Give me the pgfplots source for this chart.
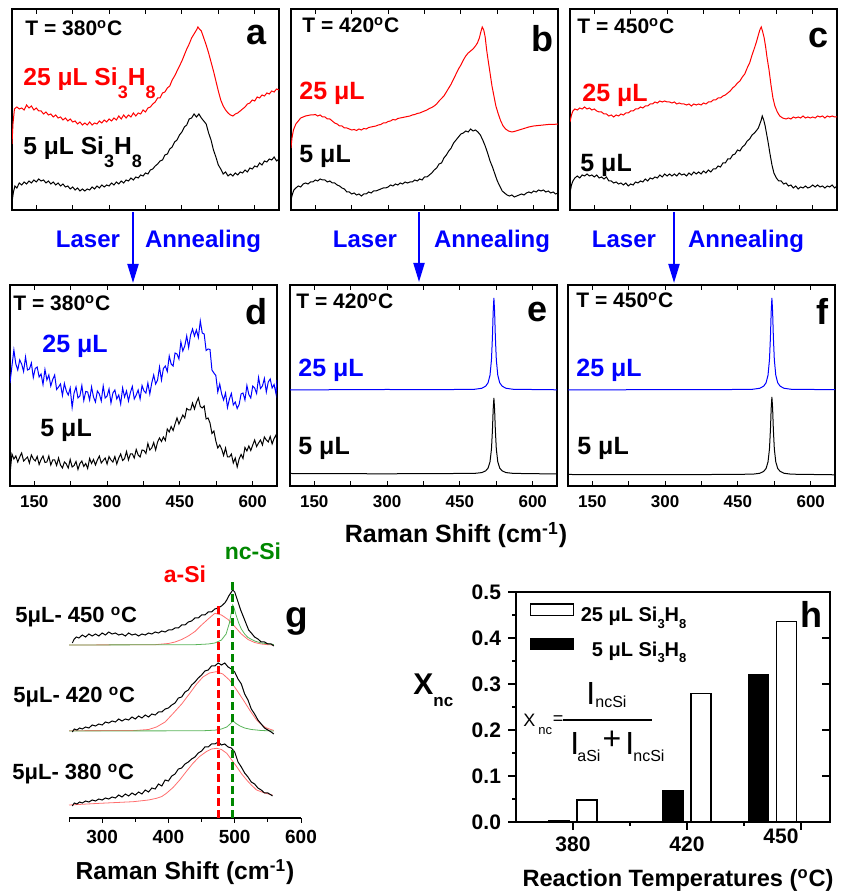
\documentclass[border=0pt]{standalone}
\usepackage{fontspec}
\setmainfont{Liberation Sans}
\usepackage{pgfplots}
\pgfplotsset{compat=1.18}
\usetikzlibrary{arrows.meta}
\definecolor{fitred}{RGB}{255,110,110}
\definecolor{fitgreen}{RGB}{90,180,90}
\definecolor{ncgreen}{RGB}{0,135,0}
\newcommand\fs[1]{\fontsize{#1}{#1}\selectfont\bfseries}
\newcommand\fr[1]{\fontsize{#1}{#1}\selectfont}
\newcommand\sub[1]{\raisebox{-6.5pt}{\fontsize{9}{9}\selectfont #1}}
\newcommand\lsub[1]{\raisebox{-3.3pt}{\fontsize{6.5}{6.5}\selectfont #1}}
\pgfplotsset{
  spec/.style={scale only axis, width=133.5pt, height=100.5pt, anchor=south west,
    xmin=100, xmax=650, ymin=0, ymax=201,
    xtick={150,300,450,600}, minor xtick={225,375,525}, ytick=\empty,
    tick align=inside, major tick length=2.5pt, minor tick length=2.5pt,
    axis line style={line width=0.6pt}, every tick/.style={black, line width=0.5pt},
    xticklabels={150,300,450,600},
    xticklabel style={font=\fs{8.5}, yshift=-1.5pt}},
  top/.style={spec, xticklabels={}},
  sp/.style={line width=0.5pt},
}
\begin{document}
\begin{tikzpicture}
\begin{scope}[yshift=446pt]
\begin{scope}[x=0.5pt,y=-0.5pt, every node/.style={inner sep=0pt}]
\useasboundingbox (0,0) rectangle (840,892);
% temperature labels
\node[anchor=base west, font=\fs{10.5}] at (25,36) {T = 380\textsuperscript{o}C};
\node[anchor=base west, font=\fs{10.5}] at (302,33) {T = 420\textsuperscript{o}C};
\node[anchor=base west, font=\fs{10.5}] at (577,34) {T = 450\textsuperscript{o}C};
\node[anchor=base west, font=\fs{10.5}] at (13,311) {T = 380\textsuperscript{o}C};
\node[anchor=base west, font=\fs{10.5}] at (296,309) {T = 420\textsuperscript{o}C};
\node[anchor=base west, font=\fs{10.5}] at (576,308) {T = 450\textsuperscript{o}C};
% panel letters
\node[anchor=base, font=\fs{18}] at (257,45) {a};
\node[anchor=base, font=\fs{18}] at (542,52) {b};
\node[anchor=base, font=\fs{18}] at (818,48) {c};
\node[anchor=base, font=\fs{18}] at (256,325) {d};
\node[anchor=base, font=\fs{18}] at (537,322) {e};
\node[anchor=base, font=\fs{18}] at (822,325) {f};
\node[anchor=base, font=\fs{18.5}] at (297,628) {g};
\node[anchor=base, font=\fs{18}] at (811,628) {h};
% series labels
\node[anchor=base west, font=\fs{12.3}, red] at (23,86) {25 μL Si\sub{3}H\sub{8}};
\node[anchor=base west, font=\fs{12.3}] at (23,155) {5 μL Si\sub{3}H\sub{8}};
\node[anchor=base west, font=\fs{12.5}, red] at (299,100) {25 μL};
\node[anchor=base west, font=\fs{12.5}] at (299,163) {5 μL};
\node[anchor=base west, font=\fs{12.5}, red] at (582,102) {25 μL};
\node[anchor=base west, font=\fs{12.5}] at (580,172) {5 μL};
\node[anchor=base west, font=\fs{12.5}, blue] at (42,353) {25 μL};
\node[anchor=base west, font=\fs{12.5}] at (40,437) {5 μL};
\node[anchor=base west, font=\fs{12.5}, blue] at (298,377) {25 μL};
\node[anchor=base west, font=\fs{12.5}] at (298,455) {5 μL};
\node[anchor=base west, font=\fs{12.5}, blue] at (576,377) {25 μL};
\node[anchor=base west, font=\fs{12.5}] at (577,455) {5 μL};
% laser annealing arrows
\draw[blue, line width=1pt, -{Triangle[length=9.5pt, width=5.5pt]}] (133,212) -- (133,283);
\draw[blue, line width=1pt, -{Triangle[length=9.5pt, width=5.5pt]}] (419,212) -- (419,282);
\draw[blue, line width=1pt, -{Triangle[length=9.5pt, width=5.5pt]}] (674,212) -- (674,283);
\node[anchor=base, font=\fs{12}, blue] at (88,248) {Laser};
\node[anchor=base, font=\fs{12}, blue] at (203,248) {Annealing};
\node[anchor=base, font=\fs{12}, blue] at (365,248) {Laser};
\node[anchor=base, font=\fs{12}, blue] at (492,248) {Annealing};
\node[anchor=base, font=\fs{12}, blue] at (624,248) {Laser};
\node[anchor=base, font=\fs{12}, blue] at (746,248) {Annealing};
\node[anchor=base, font=\fs{12.5}] at (456,543) {Raman Shift (cm\textsuperscript{-1})};
% panel g text
\node[anchor=base west, font=\fs{11}] at (15,623) {5μL- 450 \textsuperscript{o}C};
\node[anchor=base west, font=\fs{11}] at (13,703) {5μL- 420 \textsuperscript{o}C};
\node[anchor=base west, font=\fs{11}] at (12,780) {5μL- 380 \textsuperscript{o}C};
\node[anchor=base, font=\fs{11.5}, red] at (185,583) {a-Si};
\node[anchor=base, font=\fs{11.5}, ncgreen] at (253,560) {nc-Si};
\node[anchor=base, font=\fs{12.3}] at (185,880) {Raman Shift (cm\textsuperscript{-1})};
% panel h text
\node[anchor=base west, font=\fs{15}] at (413,695) {X};
\node[anchor=base west, font=\fs{8.5}] at (433,707) {nc};
\node[anchor=base, font=\fs{11.8}] at (678,887) {Reaction Temperatures (\textsuperscript{o}C)};
\node[anchor=base west, font=\fr{9}] at (523,727) {X};
\node[anchor=base west, font=\fr{6.5}] at (538,735) {nc};
\node[font=\fr{9}] at (558,720) {=};
\draw[line width=0.8pt] (563,720) -- (652,720);
\node[anchor=base west, font=\fr{16}] at (586,705) {I};
\node[anchor=base west, font=\fr{8}] at (595,708) {ncSi};
\node[anchor=base west, font=\fr{16}] at (570,755) {I};
\node[anchor=base west, font=\fr{8}] at (577,762) {aSi};
\node[font=\fr{16}] at (612,740) {+};
\node[anchor=base west, font=\fr{16}] at (625,755) {I};
\node[anchor=base west, font=\fr{8}] at (633,762) {ncSi};
\end{scope}
\end{scope}

% ---------- panel a ----------
\begin{axis}[top, at={(6pt,341pt)}]
\addplot[sp, red] coordinates {(100,66)(102,86)(105,101)(110,103)(115,101)(120,102)(125,100)(130,105)(135,102)(140,104)(145,100)(150,102)(155,99)(160,99)(165,96)(170,98)(175,95)(180,96)(185,93)(190,95)(195,92)(200,93)(205,90)(210,92)(215,89)(220,91)(225,88)(230,89)(235,86)(240,88)(245,85)(250,87)(255,85)(260,88)(265,85)(270,87)(275,86)(280,89)(285,87)(290,90)(295,88)(300,91)(305,89)(310,92)(315,90)(320,94)(325,91)(330,95)(335,92)(340,95)(345,93)(350,97)(355,94)(360,97)(365,96)(370,100)(375,98)(380,102)(385,103)(390,106)(395,108)(400,112)(405,112)(410,117)(415,118)(420,122)(425,124)(430,130)(435,134)(440,139)(445,144)(450,149)(455,155)(460,161)(465,166)(470,172)(475,176)(480,180)(483,183)(486,181)(490,179)(495,172)(500,165)(505,157)(510,148)(515,139)(520,129)(525,119)(530,110)(535,104)(540,100)(545,97)(550,95)(555,94)(560,96)(565,97)(570,99)(575,101)(580,103)(585,106)(590,107)(595,110)(600,109)(605,113)(610,112)(615,115)(620,114)(625,117)(630,116)(635,119)(640,118)(645,121)(650,120)};
\addplot[sp, black] coordinates {(100,8)(103,18)(106,24)(110,22)(115,27)(120,25)(125,28)(130,26)(135,29)(140,27)(145,30)(150,28)(155,31)(160,29)(165,30)(170,27)(175,29)(180,26)(185,28)(190,25)(195,27)(200,24)(205,26)(210,23)(215,24)(220,21)(225,23)(230,20)(235,22)(240,19)(245,21)(250,19)(255,21)(260,20)(265,23)(270,21)(275,24)(280,22)(285,25)(290,23)(295,25)(300,24)(305,27)(310,25)(315,28)(320,26)(325,29)(330,27)(335,30)(340,29)(345,32)(350,30)(355,33)(360,32)(365,35)(370,34)(375,37)(380,36)(385,40)(390,41)(395,44)(400,46)(405,49)(410,50)(415,55)(420,56)(425,61)(430,63)(435,68)(440,70)(445,75)(450,78)(455,83)(460,85)(465,91)(470,92)(475,96)(480,93)(485,96)(490,92)(495,89)(500,86)(505,77)(510,70)(515,60)(520,53)(525,45)(530,41)(535,36)(540,38)(545,34)(550,36)(555,34)(560,37)(565,35)(570,38)(575,37)(580,40)(585,38)(590,42)(595,41)(600,44)(605,43)(610,47)(615,45)(620,49)(625,48)(630,51)(635,50)(640,53)(645,49)(650,51)};
\end{axis}

% ---------- panel b ----------
\begin{axis}[top, at={(145.5pt,341pt)}]
\addplot[sp, red] coordinates {(100,62)(102,72)(105,80)(110,86)(115,89)(120,92)(125,93)(130,94)(135,94.5)(140,95)(145,95)(150,95.5)(155,94)(160,95)(165,93)(170,93)(175,91)(180,91)(185,89)(190,87)(195,86)(200,84)(205,84)(210,82)(215,82)(220,81)(225,80)(230,80.5)(235,79.5)(240,81)(245,80)(250,81.5)(255,81)(260,82.5)(265,83)(270,83.5)(275,84)(280,85)(285,85.5)(290,87)(295,87)(300,88.5)(305,89)(310,90.5)(315,90)(320,91.5)(325,92)(330,92.5)(335,93)(340,93.5)(345,94)(350,95)(355,95.5)(360,96.5)(365,97)(370,98)(375,99)(380,100)(385,101.5)(390,102.5)(395,104)(400,106)(405,109)(410,111.5)(415,114)(420,118)(425,122)(430,126)(435,131)(440,136)(445,141)(450,145)(455,150)(460,154)(465,157)(470,159)(475,161)(480,164)(484,167)(488,172)(491,178)(494,183)(497,180)(500,173)(503,160)(506,150)(510,137)(514,124)(518,114)(522,104)(527,96)(532,89)(537,84)(542,81)(548,79)(555,78)(560,78.5)(570,80)(580,81.5)(590,83)(600,84)(610,84.5)(620,85)(630,85.5)(640,85.5)(650,86)};
\addplot[sp, black] coordinates {(100,10)(103,16)(106,20)(110,22)(115,24)(120,23)(125,26)(130,27)(135,26)(140,28)(145,28)(150,30)(155,29)(160,31)(165,30)(170,30)(175,28)(180,29)(185,27)(190,27)(195,25)(200,24)(205,22)(210,21)(215,18)(220,18)(225,16)(230,17)(235,15)(240,16)(245,14)(250,16)(255,16)(260,18)(265,17)(270,19)(275,19)(280,20)(285,21)(290,22)(295,22)(300,23)(305,25)(310,24)(315,26)(320,25)(325,27)(330,26)(335,28)(340,27)(345,28)(350,28)(355,30)(360,29)(365,31)(370,30)(375,33)(380,33)(385,35)(390,37)(395,40)(400,42)(405,46)(410,47)(415,52)(420,55)(425,59)(430,62)(435,67)(440,70)(445,73)(450,76)(455,77)(460,79)(465,78)(470,81)(475,79)(480,80)(485,78)(490,75)(495,70)(500,64)(505,57)(510,49)(515,43)(520,36)(525,29)(530,24)(535,19)(540,17)(545,15)(550,14)(555,15)(560,13)(565,14)(570,15)(575,16)(580,15)(585,17)(590,18)(595,17)(600,19)(605,18)(610,20)(615,19)(620,20)(625,18)(630,19)(635,17)(640,18)(645,16)(650,17)};
\end{axis}

% ---------- panel c ----------
\begin{axis}[top, at={(285pt,341pt)}]
\addplot[sp, red] coordinates {(100,88)(103,95)(106,99)(110,101)(115,100)(120,102)(125,101)(130,103)(135,101)(140,102)(145,100)(150,101)(155,99)(160,98)(165,98)(170,96)(175,96)(180,94)(185,95)(190,93)(195,95)(200,94)(205,96)(210,95)(215,97)(220,97)(225,99)(230,99)(235,101)(240,101)(245,103)(250,102)(255,104)(260,104)(265,106)(270,106)(275,108)(280,107)(285,109)(290,108)(295,109)(300,108)(305,108)(310,107)(315,108)(320,106)(325,107)(330,106)(335,106)(340,105)(345,106)(350,104)(355,106)(360,105)(365,106)(370,105)(375,107)(380,106)(385,108)(390,108)(395,110)(400,110)(405,112)(410,112)(415,114)(420,115)(425,117)(430,119)(435,122)(440,124)(445,127)(450,129)(455,133)(460,136)(465,142)(470,147)(475,155)(480,162)(484,168)(488,175)(491,180)(494,183)(497,178)(500,172)(503,163)(506,152)(510,140)(514,125)(518,112)(522,104)(527,98)(532,94)(538,92)(545,91)(550,92)(555,91)(560,93)(565,92)(570,93)(575,92)(580,94)(585,92)(590,93)(595,92)(600,93)(605,92)(610,94)(615,93)(620,94)(625,92)(630,94)(635,93)(640,94)(645,93)(650,93)};
\addplot[sp, black] coordinates {(100,17)(103,25)(106,29)(110,32)(115,34)(120,32)(125,35)(130,34)(135,36)(140,34)(145,35)(150,33)(155,35)(160,32)(165,33)(170,31)(175,33)(180,29)(185,29)(190,27)(195,28)(200,26)(205,27)(210,25)(215,27)(220,24)(225,26)(230,25)(235,28)(240,27)(245,29)(250,28)(255,31)(260,29)(265,32)(270,31)(275,33)(280,32)(285,35)(290,33)(295,36)(300,34)(305,36)(310,34)(315,36)(320,34)(325,37)(330,35)(335,36)(340,34)(345,37)(350,35)(355,38)(360,36)(365,38)(370,36)(375,39)(380,37)(385,40)(390,38)(395,41)(400,41)(405,44)(410,43)(415,47)(420,47)(425,51)(430,51)(435,55)(440,56)(445,60)(450,59)(455,63)(460,65)(465,69)(470,71)(475,75)(480,77)(485,80)(488,82)(491,86)(494,90)(496,94)(499,90)(502,84)(505,76)(508,68)(512,56)(516,45)(520,37)(525,32)(530,29)(535,29)(540,26)(545,27)(550,24)(555,25)(560,22)(565,24)(570,21)(575,23)(580,22)(585,24)(590,22)(595,23)(600,25)(605,23)(610,25)(615,23)(620,24)(625,22)(630,24)(635,23)(640,25)(645,22)(650,24)};
\end{axis}

% ---------- panel d ----------
\begin{axis}[spec, at={(5pt,203pt)}]
\addplot[sp, blue] coordinates {(100,103)(104,120)(108,136)(112,122)(116,116)(120,126)(124,122)(128,114.5)(132,129)(136,116)(140,117)(144,123)(148,108.5)(152,117.5)(156,119)(160,109)(164,112)(168,101.5)(172,116.5)(176,106)(180,111)(184,100)(188,106.5)(192,111)(196,96.5)(200,99)(204,102)(208,90.5)(212,102.5)(216,95)(220,91)(224,98)(228,78.5)(232,93)(236,99)(240,88)(244,90)(248,100.5)(252,85.5)(256,94.5)(260,94)(264,86)(268,99)(272,89)(276,84)(280,95)(284,92)(288,85)(292,100)(296,88)(300,90)(304,97)(308,83)(312,93)(316,96)(320,87)(324,91)(328,82)(332,98)(336,89)(340,95)(344,85)(348,93.5)(352,99.5)(356,87)(360,91)(364,96)(368,87)(372,100.5)(376,95)(380,93)(384,103)(388,92)(392,103)(396,111)(400,102)(404,106)(408,119)(412,106)(416,117.5)(420,120)(424,114.5)(428,130)(432,122)(436,120)(440,133)(444,132)(448,127)(452,144)(456,135)(460,140)(464,150)(468,138.5)(472,151)(476,157)(480,150)(484,156)(488,148.5)(492,165)(496,153)(500,152)(504,135.5)(508,137)(512,136.5)(516,116)(520,113)(524,110.5)(528,94)(532,102)(536,92)(540,86)(544,93)(548,78.5)(552,87)(556,92.5)(560,81)(564,84)(568,77.5)(572,81.5)(576,92)(580,93)(584,86)(588,100.5)(592,91.5)(596,88)(600,100)(604,98)(608,92.5)(612,108.5)(616,97.5)(620,100)(624,107.5)(628,94)(632,104)(636,107)(640,98)(644,101.5)(648,92)(650,106)};
\addplot[sp, black] coordinates {(100,12)(104,32)(108,27)(112,30)(116,24)(120,29)(124,33)(128,25)(132,27)(136,29)(140,23)(144,31)(148,27)(152,25)(156,29.5)(160,21.5)(164,26.5)(168,30)(172,23.5)(176,24)(180,30)(184,21)(188,26)(192,26)(196,20.5)(200,28)(204,21)(208,18)(212,24)(216,22)(220,18)(224,26.5)(228,19)(232,20.5)(236,24.5)(240,16.5)(244,22.5)(248,25)(252,19.5)(256,22.5)(260,17.5)(264,27.5)(268,22.5)(272,26.5)(276,21)(280,26)(284,30)(288,23)(292,25.5)(296,28)(300,22)(304,29.5)(308,26)(312,24)(316,29.5)(320,22)(324,28)(328,32)(332,25.5)(336,27.5)(340,34.5)(344,26)(348,32)(352,32)(356,28)(360,36.5)(364,31)(368,29)(372,36)(376,35.5)(380,32.5)(384,42.5)(388,36)(392,38)(396,43.5)(400,36)(404,44)(408,48)(412,44.5)(416,49)(420,45.5)(424,57)(428,54)(432,59.5)(436,55.5)(440,62)(444,68)(448,62)(452,66.5)(456,71)(460,68)(464,77.5)(468,76)(472,76)(476,83)(480,77)(484,83.5)(488,88)(492,79.5)(496,78)(500,80)(504,67)(508,68)(512,63)(516,52.5)(520,55)(524,45)(528,38)(532,41)(536,37)(540,30.5)(544,38)(548,29)(552,29)(556,32)(560,23)(564,28)(568,19)(572,27)(576,31.5)(580,27.5)(584,38.5)(588,35)(592,40)(596,35.5)(600,41)(604,46)(608,39.5)(612,43)(616,46)(620,41)(624,49)(628,46)(632,44)(636,49.5)(640,42)(644,47.5)(648,51)(650,45)};
\end{axis}

% ---------- panel e ----------
\begin{axis}[spec, at={(145pt,203pt)}]
\addplot[sp, blue] coordinates {(100,96)(200,96.3)(300,96.5)(400,96.3)(480,96.7)(495,97.7)(503,99.8)(508,103.2)(512,110.8)(515,126.3)(517,149)(518.5,173.8)(520,188)(521.5,173.8)(523,149)(525,126.3)(528,110.8)(532,103.2)(537,99.8)(545,97.7)(560,96.7)(650,96.2)};
\addplot[sp, black] coordinates {(100,12.5)(200,12.3)(300,12.2)(400,12.4)(480,12.6)(495,13.4)(503,15.1)(508,17.9)(512,24.2)(515,37)(517,55.8)(518.5,76.2)(520,88)(521.5,76.2)(523,55.8)(525,37)(528,24.2)(532,17.9)(537,15.1)(545,13.4)(560,12.6)(650,12)};
\end{axis}

% ---------- panel f ----------
\begin{axis}[spec, at={(284pt,203pt)}]
\addplot[sp, blue] coordinates {(100,96)(200,96.2)(300,96.4)(400,96.3)(480,96.7)(495,97.7)(503,99.8)(508,103.2)(512,110.8)(515,126.3)(517,149)(518.5,173.8)(520,188)(521.5,173.8)(523,149)(525,126.3)(528,110.8)(532,103.2)(537,99.8)(545,97.7)(560,96.7)(650,96.3)};
\addplot[sp, black] coordinates {(100,11.5)(200,11.4)(300,11.3)(400,11.5)(480,11.8)(495,12.7)(503,14.6)(508,17.5)(512,24.1)(515,37.2)(517,56.4)(518.5,77.4)(520,89)(521.5,77.4)(523,56.4)(525,37.2)(528,24.1)(532,17.5)(537,14.6)(545,12.7)(560,11.8)(650,11.2)};
\end{axis}

% ---------- panel g ----------
\begin{axis}[scale only axis, at={(34.5pt,37pt)}, anchor=south west, width=116pt, height=159pt,
  xmin=250, xmax=600, ymin=0, ymax=318, clip=false,
  axis x line*=bottom, axis y line=none,
  xtick={300,400,500,600}, minor xtick={250,350,450,550}, tick align=outside,
  major tick length=2.5pt, minor tick length=1.8pt,
  axis line style={line width=0.6pt}, every tick/.style={black, line width=0.5pt},
  xticklabels={300,400,500,600}, xticklabel style={font=\fs{9.5}}]
\addplot[fitred, line width=0.4pt] coordinates {(250,173)(380,173.3)(400,174.5)(410,176)(420,178.5)(430,182)(440,186.5)(450,193)(460,199)(470,204.7)(480,203)(490,198.5)(500,191.5)(510,184)(520,178.5)(530,175.5)(540,174)(550,173.3)(559,173)};
\addplot[fitgreen, line width=0.4pt] coordinates {(250,173)(440,173.3)(460,174)(470,175)(480,178)(487,184)(492,195)(495,206)(497,213)(499,210)(502,203)(506,195)(510,189)(515,184)(520,180.5)(530,177)(540,175)(559,173.5)};
\addplot[sp, black] coordinates {(255,175)(258,179)(261,181)(265,180)(270,183)(275,181)(280,184)(285,182)(290,184)(295,182)(300,185)(305,183)(310,186)(315,184)(320,185)(325,183)(330,184)(335,182)(340,185)(345,183)(350,184)(355,182)(360,184)(365,183)(370,185)(375,184)(380,186)(385,185)(390,187)(395,186)(400,188)(405,188)(410,190)(415,190)(420,193)(425,193)(430,196)(435,197)(440,200)(445,200)(450,203)(455,203)(460,206)(465,206)(470,209)(475,210)(480,212)(485,215)(488,218)(491,222)(494,225)(497,228)(500,226)(503,220)(506,214)(509,208)(512,203)(515,198)(518,193)(521,188)(525,185)(530,181)(535,179)(540,176)(545,176)(550,174)(555,174)(559,172)};
\addplot[fitred, line width=0.4pt] coordinates {(250,87.3)(350,87.5)(370,88.5)(382,91)(395,96)(407,104.5)(420,114)(432,124.5)(442,133.5)(452,141)(462,145)(472,146.3)(482,144)(492,138)(502,129)(513,118)(523,107.5)(533,98)(541,93)(548,90)(559,87.5)};
\addplot[fitgreen, line width=0.4pt] coordinates {(250,87)(450,87.2)(470,87.8)(480,89)(488,91)(493,94)(497.5,97)(502,94.5)(508,92)(515,90)(525,88.5)(540,87.5)(559,87)};
\addplot[sp, black] coordinates {(255,86)(258,89)(262,88)(266,90)(270,89)(275,91)(280,90)(285,93)(290,92)(295,94)(300,93)(305,96)(310,95)(315,97)(320,96)(325,99)(330,97)(335,99)(340,98)(345,101)(350,99)(355,102)(360,100)(365,103)(370,101)(375,104)(380,103)(385,106)(390,106)(395,109)(400,110)(405,113)(410,115)(415,120)(420,121)(425,126)(430,128)(435,133)(440,136)(445,140)(450,143)(455,147)(460,148)(465,152)(470,152)(475,155)(480,153)(485,155)(490,151)(495,149)(500,146)(505,139)(510,134)(515,124)(520,118)(525,109)(530,104)(535,98)(540,94)(545,90)(550,88)(555,86)(559,84)};
\addplot[fitred, line width=0.4pt] coordinates {(250,13)(297,14.7)(347,16.3)(370,18)(382,19.7)(390,21.5)(397,24.7)(407,30.5)(417,38)(427,46.5)(437,54.7)(447,61.5)(457,66.3)(465,69)(473,69.7)(480,68.5)(488,64.7)(495,58.5)(503,51.3)(510,44.5)(518,38)(525,33)(533,28)(545,25)(557,23)};
\addplot[sp, black] coordinates {(255,12)(258,15)(262,14)(266,16)(270,15)(275,17)(280,16)(285,18)(290,17)(295,19)(300,18)(305,20)(310,19)(315,21)(320,20)(325,23)(330,21)(335,24)(340,22)(345,25)(350,23)(355,26)(360,24)(365,28)(370,26)(375,30)(380,29)(385,34)(390,32)(395,38)(400,37)(405,42)(410,44)(415,49)(420,50)(425,54)(430,56)(435,59)(440,61)(445,65)(450,67)(455,71)(460,71)(465,74)(470,74)(475,76)(480,73)(485,74)(490,71)(495,70)(500,66)(505,56)(510,51)(515,45)(520,41)(525,36)(530,34)(535,30)(540,28)(545,25)(550,25)(555,23)(557,22)};
\addplot[red, line width=1.5pt, dash pattern=on 4pt off 2pt] coordinates {(475,0)(475,215)};
\addplot[ncgreen, line width=1.5pt, dash pattern=on 4pt off 2pt] coordinates {(497,0)(497,236)};
\end{axis}

% ---------- panel h ----------
\begin{axis}[scale only axis, at={(258pt,35pt)}, anchor=south west, width=157pt, height=115pt,
  xmin=360, xmax=470.2, ymin=0, ymax=0.5, clip=false,
  xtick={380,420,460}, xticklabels={380,420,{}}, minor xtick={400,440},
  extra x ticks={453}, extra x tick labels={450}, extra x tick style={major tick length=0pt},
  ytick={0,0.1,0.2,0.3,0.4,0.5}, yticklabels={0.0,0.1,0.2,0.3,0.4,0.5},
  minor ytick={0.05,0.15,0.25,0.35,0.45},
  xtick pos=left, ytick pos=left, tick align=outside,
  major tick length=4pt, minor tick length=2pt,
  ticklabel style={font=\fs{10.5}},
  axis line style={line width=0.6pt}, every tick/.style={black, line width=0.6pt},
  legend style={draw=none, fill=none, at={(0.042,0.952)}, anchor=north west,
    font=\fs{10}, inner sep=0pt, row sep=6.5pt, column sep=3.5pt, nodes={inner sep=0pt}},
  legend cell align=left]
\addplot[ybar, bar width=10pt, bar shift=7pt, fill=white, draw=black, line width=0.6pt,
  legend image code/.code={\draw[fill=white,draw=black,line width=0.6pt] (0pt,0.4pt) rectangle (21.5pt,6pt);}]
  coordinates {(380,0.048) (420,0.28) (450,0.435)};
\addlegendentry{25 μL Si\lsub{3}H\lsub{8}}
\addplot[ybar, bar width=10pt, bar shift=-7pt, fill=black, draw=black, line width=0.6pt,
  legend image code/.code={\draw[fill=black,draw=black,line width=0.6pt] (0pt,0.4pt) rectangle (21.5pt,6pt);}]
  coordinates {(380,0.004) (420,0.068) (450,0.32)};
\addlegendentry{\phantom{2}5 μL Si\lsub{3}H\lsub{8}}
\end{axis}
\begin{axis}[scale only axis, at={(258pt,35pt)}, anchor=south west, width=157pt, height=115pt,
  xmin=360, xmax=470.2, ymin=0, ymax=0.5, axis line style={draw=none},
  xtick=\empty, ytick={0.1,0.2,0.3,0.4}, yticklabels={}, ytick pos=right, tick align=inside,
  major tick length=4pt, every tick/.style={black, line width=0.6pt}]
\end{axis}
\end{tikzpicture}
\end{document}
